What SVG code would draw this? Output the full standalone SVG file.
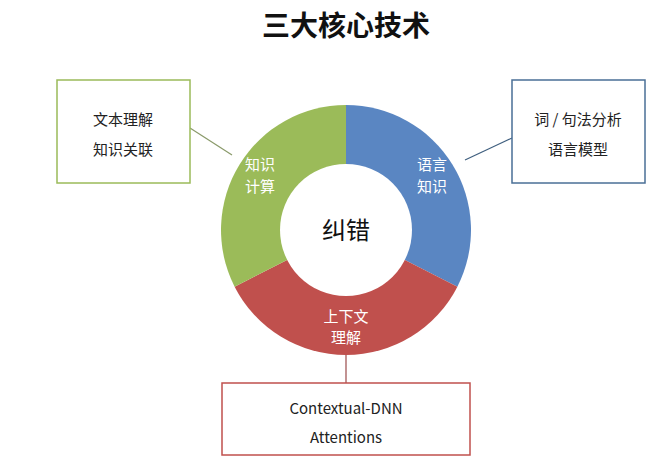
<svg xmlns="http://www.w3.org/2000/svg" width="671" height="457" viewBox="0 0 671 457">
<style>
text{font-family:"Noto Sans CJK SC","Liberation Sans",sans-serif;text-anchor:middle}
.box{fill:#fff;stroke-width:1.5}
.bt{font-size:15px;fill:#222}
.rt{font-size:15px;fill:#fff}
.ln{stroke-width:1.2;fill:none}
</style>
<rect width="671" height="457" fill="#fff"/>
<text x="346" y="36" font-size="28" font-weight="bold" fill="#111">三大核心技术</text>
<g id="connectors">
<line class="ln" x1="190" y1="128" x2="232" y2="155" stroke="#8a9a6a"/>
<line class="ln" x1="512" y1="138" x2="465" y2="160" stroke="#3f5f7f"/>
<line class="ln" x1="346" y1="354" x2="346" y2="383" stroke="#9a4a4a"/>
</g>
<g id="ring">
<path d="M346 105 A125 125 0 0 1 457.4 286.7 L346 230 Z" fill="#5a86c2"/>
<path d="M457.4 286.7 A125 125 0 0 1 234.6 286.7 L346 230 Z" fill="#c0504d"/>
<path d="M234.6 286.7 A125 125 0 0 1 346 105 L346 230 Z" fill="#9bbb59"/>
<circle cx="346" cy="230" r="66" fill="#fff"/>
</g>
<g id="center"><text x="346" y="239" font-size="24" fill="#111">纠错</text></g>
<g id="seg-green"><text class="rt" x="260" y="170">知识</text><text class="rt" x="260" y="192">计算</text></g>
<g id="seg-blue"><text class="rt" x="432" y="170">语言</text><text class="rt" x="432" y="192">知识</text></g>
<g id="seg-red"><text class="rt" x="346" y="322">上下文</text><text class="rt" x="346" y="343">理解</text></g>
<g id="box-left"><rect class="box" x="57" y="80" width="133" height="103" stroke="#9bbb59"/><text class="bt" x="123" y="125">文本理解</text><text class="bt" x="123" y="155">知识关联</text></g>
<g id="box-right"><rect class="box" x="512" y="80" width="133" height="103" stroke="#4a6f96"/><text class="bt" x="578" y="125">词 / 句法分析</text><text class="bt" x="578" y="155">语言模型</text></g>
<g id="box-bottom"><rect class="box" x="222" y="383" width="248" height="72" stroke="#c0504d"/><text class="bt" x="346" y="414">Contextual-DNN</text><text class="bt" x="346" y="443">Attentions</text></g>
</svg>
